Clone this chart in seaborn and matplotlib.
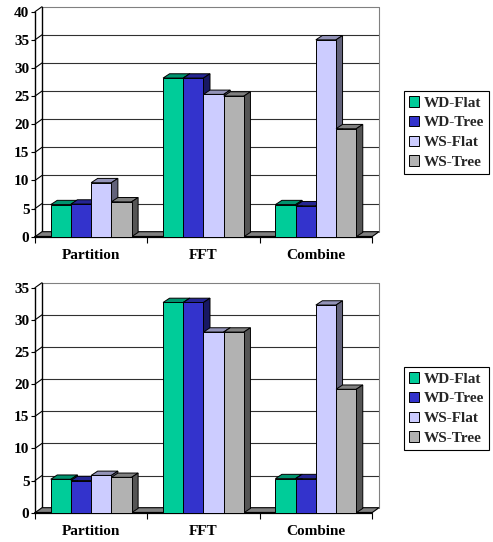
import numpy as np
import pandas as pd
import matplotlib
matplotlib.use("Agg")
import matplotlib.pyplot as plt
import seaborn as sns
from matplotlib.patches import Polygon, Patch
from matplotlib.lines import Line2D
from matplotlib.colors import to_rgb

# ---------------- data ----------------
stages = ["Partition", "FFT", "Combine"]
configs = ["WD-Flat", "WD-Tree", "WS-Flat", "WS-Tree"]

top_wd_flat = [5.7, 28.2, 5.7]
top_wd_tree = [5.8, 28.2, 5.5]
top_ws_flat = [9.6, 25.3, 35.0]
top_ws_tree = [6.2, 25.0, 19.2]

bot_wd_flat = [5.2, 32.7, 5.3]
bot_wd_tree = [5.0, 32.7, 5.3]
bot_ws_flat = [5.8, 28.1, 32.3]
bot_ws_tree = [5.5, 28.1, 19.2]

top_ticks = [0, 5, 10, 15, 20, 25, 30, 35, 40]
bot_ticks = [0, 5, 10, 15, 20, 25, 30, 35]

colors = ["#00CC99", "#3333CC", "#CCCCFF", "#B2B2B2"]

# ---------------- style ----------------
sns.set_theme(style="white")
plt.rcParams["font.family"] = ["Liberation Serif", "DejaVu Serif"]
plt.rcParams["font.weight"] = "bold"

W, H = 493, 542
fig = plt.figure(figsize=(W / 100, H / 100), dpi=100)

WALL_D = (7.0, 5.0)   # px depth of the walls
BAR_D = (6.5, 4.3)    # px depth of bars
FS = 11


def shade(c, f):
    r, g, b = to_rgb(c)
    return (r * f, g * f, b * f)


def draw_panel(rect, series, ticks, legend_center):
    ax = fig.add_axes(rect)
    df = pd.DataFrame({
        "stage": np.tile(stages, len(configs)),
        "config": np.repeat(configs, len(stages)),
        "value": np.concatenate(series),
    })
    sns.barplot(data=df, x="stage", y="value", hue="config", order=stages,
                hue_order=configs, palette=colors, width=0.72, saturation=1,
                edgecolor="black", linewidth=0.7, legend=False, ax=ax,
                errorbar=None)
    ymax = ticks[-1]
    ax.set_xlim(-0.5, len(stages) - 0.5)
    ax.set_ylim(0, ymax)
    x0, x1 = ax.get_xlim()

    # pixel -> data conversions
    pw = rect[2] * W
    ph = rect[3] * H
    sx = (x1 - x0) / pw
    sy = ymax / ph
    wdx, wdy = WALL_D[0] * sx, WALL_D[1] * sy
    bdx, bdy = BAR_D[0] * sx, BAR_D[1] * sy

    # back wall gridlines + side wall diagonals
    for v in ticks[1:]:
        col = "#808080" if v == ymax else "#303030"
        ax.add_line(Line2D([x0 + wdx, x1 + wdx], [v + wdy, v + wdy], color=col,
                           lw=0.8, zorder=1, clip_on=False))
        ax.add_line(Line2D([x0, x0 + wdx], [v, v + wdy], color="black",
                           lw=0.8, zorder=1, clip_on=False))
    # back wall edges
    ax.add_line(Line2D([x0 + wdx, x0 + wdx], [wdy, ymax + wdy], color="black",
                       lw=1.0, zorder=1, clip_on=False))
    ax.add_line(Line2D([x1 + wdx, x1 + wdx], [wdy, ymax + wdy], color="#808080",
                       lw=0.8, zorder=1, clip_on=False))
    # floor
    floor = Polygon([[x0, 0], [x1, 0], [x1 + wdx, wdy], [x0 + wdx, wdy]],
                    closed=True, facecolor="#808080", edgecolor="black",
                    lw=0.8, zorder=2, clip_on=False)
    ax.add_patch(floor)
    ax.add_line(Line2D([x0, x1], [0, 0], color="black", lw=1.6, zorder=2.5,
                       clip_on=False))

    # 3-D faces on bars
    for k, cont in enumerate(ax.containers):
        base = colors[k]
        for bar in cont:
            bx, bw, bh = bar.get_x(), bar.get_width(), bar.get_height()
            zb = 3 + k * 0.1
            bar.set_zorder(zb + 0.05)
            top = Polygon([[bx, bh], [bx + bw, bh], [bx + bw + bdx, bh + bdy],
                           [bx + bdx, bh + bdy]], closed=True,
                          facecolor=shade(base, 0.72), edgecolor="black",
                          lw=0.7, zorder=zb, clip_on=False)
            side = Polygon([[bx + bw, 0], [bx + bw, bh], [bx + bw + bdx, bh + bdy],
                            [bx + bw + bdx, bdy]], closed=True,
                           facecolor=shade(base, 0.48), edgecolor="black",
                           lw=0.7, zorder=zb, clip_on=False)
            ax.add_patch(top)
            ax.add_patch(side)

    # spines / ticks
    for s in ["top", "right", "bottom"]:
        ax.spines[s].set_visible(False)
    ax.spines["left"].set_color("black")
    ax.spines["left"].set_linewidth(1.0)
    ax.spines["left"].set_zorder(5)
    ax.set_yticks(ticks)
    ax.set_yticklabels([str(t) for t in ticks], fontsize=FS, fontweight="bold")
    ax.tick_params(axis="y", left=True, length=3, width=0.8, pad=1,
                   direction="out", colors="black")
    ax.set_xticks(range(len(stages)))
    ax.set_xticklabels(stages, fontsize=FS, fontweight="bold")
    ax.set_xticks(np.arange(-0.5, len(stages), 1.0), minor=True)
    ax.tick_params(axis="x", which="major", bottom=True, length=0, pad=9,
                   colors="black")
    ax.tick_params(axis="x", which="minor", bottom=True, length=4, width=0.8,
                   direction="out", color="black")
    ax.set_xlabel("")
    ax.set_ylabel("")
    ax.grid(False)
    ax.set_facecolor("none")

    handles = [Patch(facecolor=c, edgecolor="black", lw=0.7, label=l)
               for c, l in zip(colors, configs)]
    leg = fig.legend(handles=handles, loc="center", bbox_to_anchor=legend_center,
                     frameon=True, fancybox=False, edgecolor="black",
                     framealpha=1, prop={"family": "Liberation Serif",
                                         "weight": "bold", "size": FS},
                     handlelength=0.7, handleheight=0.7, handletextpad=0.3,
                     labelspacing=0.4, borderpad=0.3, borderaxespad=0)
    leg.get_frame().set_linewidth(0.8)
    return ax


draw_panel([35 / W, 1 - 236.7 / H, 337 / W, 225 / H],
           [top_wd_flat, top_wd_tree, top_ws_flat, top_ws_tree],
           top_ticks, (446.5 / W, 1 - 132.5 / H))
draw_panel([35 / W, 1 - 512.7 / H, 337 / W, 225 / H],
           [bot_wd_flat, bot_wd_tree, bot_ws_flat, bot_ws_tree],
           bot_ticks, (446.5 / W, 1 - 408.5 / H))

fig.savefig("out.png", dpi=100)
